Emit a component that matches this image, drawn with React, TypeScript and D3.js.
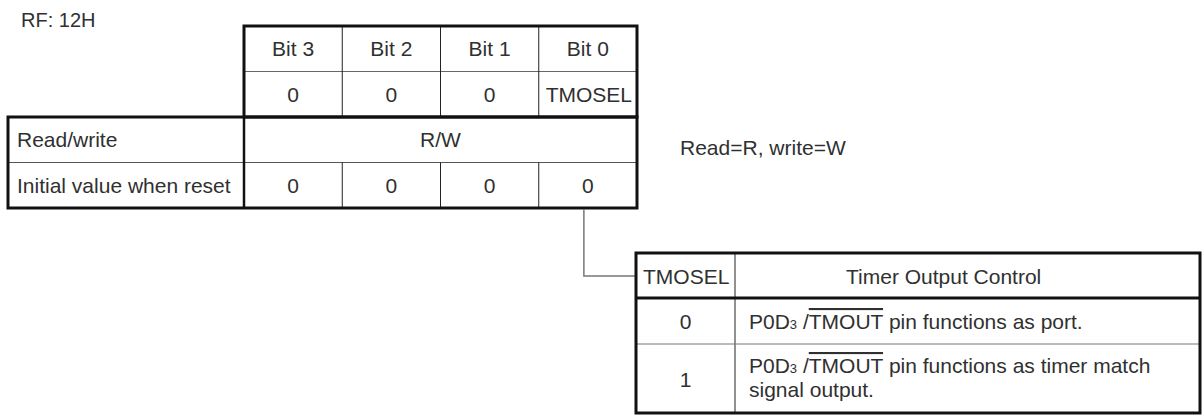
import React from "react";
import * as d3 from "d3";

const registerName = "RF: 12H";
const bitLabels = ["Bit 3", "Bit 2", "Bit 1", "Bit 0"];
const bitNames = ["0", "0", "0", "TMOSEL"];
const resetValues = ["0", "0", "0", "0"];
const rowLabels = ["Read/write", "Initial value when reset"];
const accessLabel = "R/W";
const accessNote = "Read=R, write=W";
const tableHeader = ["TMOSEL", "Timer Output Control"];
const tmoselValues = ["0", "1"];
const tmoselTails = [["pin functions as port."], ["pin functions as timer match", "signal output."]];

const FONT = "'Liberation Sans', Arial, Helvetica, sans-serif";
const FS = 21;
const TXT = "#303030";
const THICK = 3;
const THIN = 1;

function PinName({ x, y, tail }: { x: number; y: number; tail: string }) {
  return (
    <text x={x} y={y} fontFamily={FONT} fontSize={FS} fill={TXT}>
      <tspan>P0D</tspan>
      <tspan fontSize={13}>3</tspan>
      <tspan> /</tspan>
      <tspan style={{ textDecoration: "overline" }}>TMOUT</tspan>
      <tspan>{" " + tail}</tspan>
    </text>
  );
}

export default function App() {
  const left = 8;
  const x = d3.scaleBand<string>().domain(bitLabels).range([244, 637]).padding(0);
  const rows = ["bits", "names", "rw", "reset"];
  const y = d3.scaleBand<string>().domain(rows).range([26, 208]).padding(0);
  const right = x.range()[1];
  const bw = x.bandwidth();
  const rh = y.bandwidth();
  const base = (r: string) => (y(r) as number) + rh / 2 + 7.5;

  // lower table geometry
  const tL = 636, tR = 1200, tC = 735;
  const tRows = [253, 298, 344, 413];
  const connX = (x("Bit 0") as number) + bw / 2 - 4;

  return (
    <svg width={1202} height={416} style={{ position: "absolute", left: 0, top: 0, background: "#fff" }}>
      <rect x={0} y={0} width={1202} height={416} fill="#fff" />
      <text x={21} y={27} fontFamily={FONT} fontSize={20} fill={TXT}>{registerName}</text>

      {/* thin inner lines upper */}
      <line x1={x.range()[0]} x2={right} y1={y("names")} y2={y("names")} stroke="#666" strokeWidth={THIN} />
      <line x1={left} x2={right} y1={y("reset")} y2={y("reset")} stroke="#555" strokeWidth={THIN} />
      {bitLabels.slice(1).map((b) => (
        <g key={b}>
          <line x1={x(b)} x2={x(b)} y1={y("bits")} y2={y("rw")} stroke="#222" strokeWidth={THIN} />
          <line x1={x(b)} x2={x(b)} y1={y("reset")} y2={208} stroke="#222" strokeWidth={THIN} />
        </g>
      ))}

      {/* thick borders upper */}
      <rect x={x.range()[0]} y={26} width={right - x.range()[0]} height={(y("rw") as number) - 26} fill="none" stroke="#111" strokeWidth={THICK} />
      <rect x={left} y={y("rw")} width={right - left} height={208 - (y("rw") as number)} fill="none" stroke="#111" strokeWidth={THICK} />
      <line x1={x.range()[0]} x2={x.range()[0]} y1={y("rw")} y2={208} stroke="#111" strokeWidth={THICK - 0.5} />

      {bitLabels.map((b, i) => (
        <g key={"t" + b} fontFamily={FONT} fontSize={FS} fill={TXT} textAnchor="middle">
          <text x={(x(b) as number) + bw / 2} y={base("bits")}>{b}</text>
          <text x={(x(b) as number) + bw / 2 + (i === 3 ? 1 : 0)} y={base("names")}>{bitNames[i]}</text>
          <text x={(x(b) as number) + bw / 2} y={base("reset")}>{resetValues[i]}</text>
        </g>
      ))}
      <text x={(x.range()[0] + right) / 2} y={base("rw")} fontFamily={FONT} fontSize={FS} fill={TXT} textAnchor="middle">{accessLabel}</text>
      <text x={17} y={base("rw")} fontFamily={FONT} fontSize={FS} fill={TXT}>{rowLabels[0]}</text>
      <text x={17} y={base("reset")} fontFamily={FONT} fontSize={FS} fill={TXT}>{rowLabels[1]}</text>
      <text x={680} y={155} fontFamily={FONT} fontSize={FS} fill={TXT}>{accessNote}</text>

      {/* connector */}
      <path d={`M${connX},209 V276 H${tL}`} fill="none" stroke="#777" strokeWidth={1.5} />

      {/* lower table */}
      <line x1={tC} x2={tC} y1={tRows[0]} y2={tRows[3]} stroke="#222" strokeWidth={THIN} />
      <line x1={tL} x2={tR} y1={tRows[2]} y2={tRows[2]} stroke="#777" strokeWidth={THIN} />
      <line x1={tL} x2={tR} y1={tRows[1]} y2={tRows[1]} stroke="#111" strokeWidth={THICK} />
      <rect x={tL} y={tRows[0]} width={tR - tL} height={tRows[3] - tRows[0]} fill="none" stroke="#111" strokeWidth={THICK} />

      <text x={643} y={284} fontFamily={FONT} fontSize={FS} fill={TXT}>{tableHeader[0]}</text>
      <text x={846} y={284} fontFamily={FONT} fontSize={FS} fill={TXT}>{tableHeader[1]}</text>
      <text x={(tL + tC) / 2} y={329} fontFamily={FONT} fontSize={FS} fill={TXT} textAnchor="middle">{tmoselValues[0]}</text>
      <text x={(tL + tC) / 2} y={387} fontFamily={FONT} fontSize={FS} fill={TXT} textAnchor="middle">{tmoselValues[1]}</text>
      <PinName x={749} y={329} tail={tmoselTails[0][0]} />
      <PinName x={749} y={373} tail={tmoselTails[1][0]} />
      <text x={749} y={397} fontFamily={FONT} fontSize={FS} fill={TXT}>{tmoselTails[1][1]}</text>
    </svg>
  );
}
